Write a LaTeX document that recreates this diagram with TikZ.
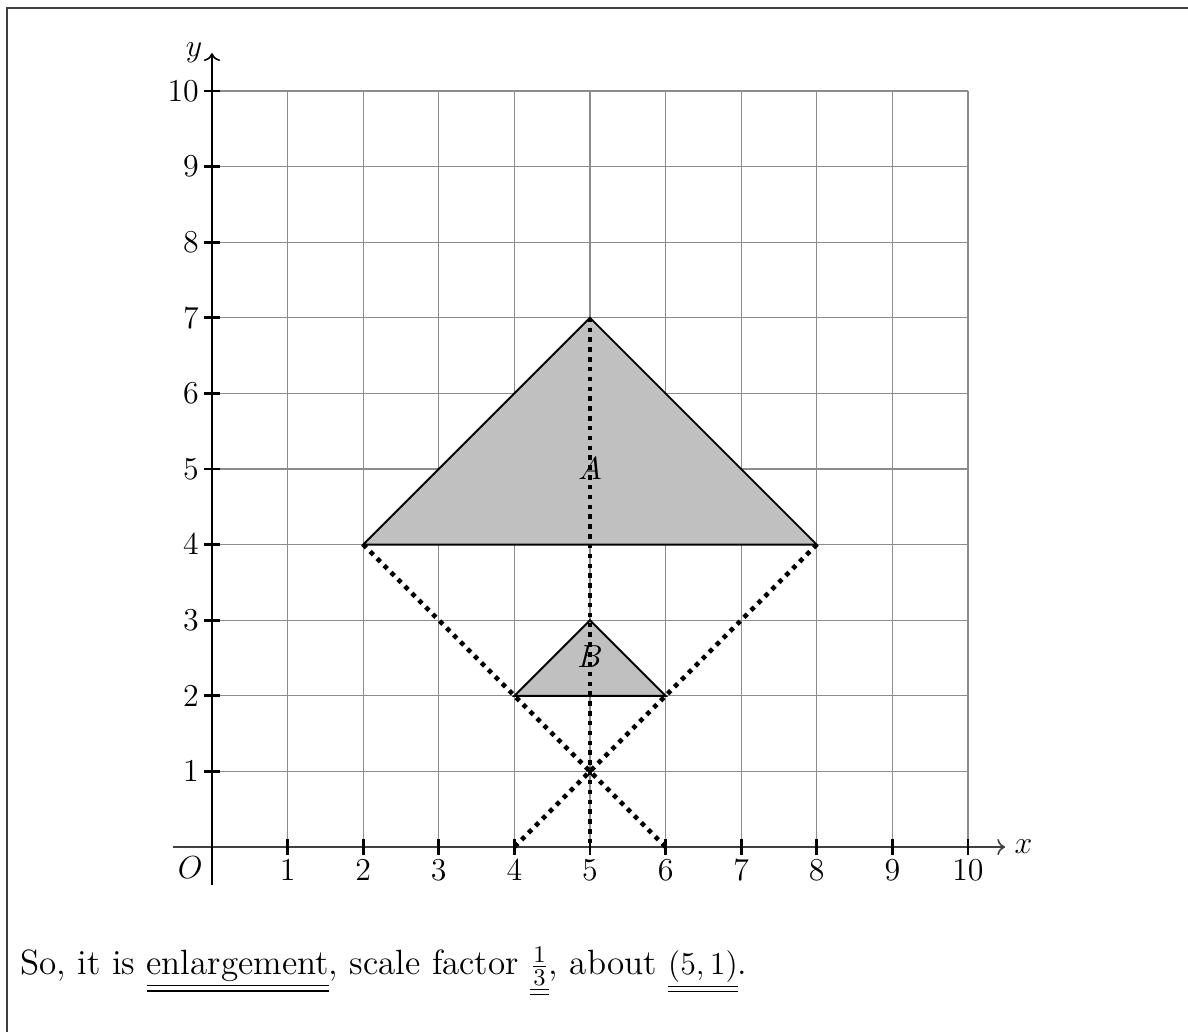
\documentclass[tikz,border=0pt]{standalone}
\usepackage{tikz}
\usetikzlibrary{arrows.meta,positioning,calc}
\usepackage{xcolor}
\definecolor{gridgray}{HTML}{8C8C8C}
\definecolor{shade}{HTML}{C0C0C0}

\begin{document}
\begin{tikzpicture}[
  every node/.style={font=\fontsize{13.2}{16}\selectfont},
  gridline/.style={draw=gridgray, line width=0.5pt},
  axis/.style={->, line width=0.6pt},
  tick/.style={line width=1.1pt},
  tri/.style={draw=black, fill=shade, line width=0.7pt, line join=miter},
  ray/.style={dotted, line width=1.7pt},
  frame/.style={draw=black!75, line width=0.8pt},
]

% page frame
\useasboundingbox (-2.804,-2.434) rectangle (12.91,11.204);
\draw[frame] (-2.71,-2.6) -- (-2.71,11.1) -- (13.1,11.1);

% grid
\foreach \i in {1,...,10} {
  \draw[gridline] (\i,0) -- (\i,10);
  \draw[gridline] (0,\i) -- (10,\i);
}

% axes
\draw[axis, draw=black!75] (-0.52,0) -- (10.49,0) node[right, text=black] (xlab) {$x$};
\draw[axis] (0,-0.5) -- (0,10.5) node[left] (ylab) {$y$};
\node[below left] (O) at (0,0) {$O$};

\foreach \i in {1,...,10} {
  \draw[tick] (\i,-0.1) -- (\i,0.1);
  \node[below] (xt\i) at (\i,-0.05) {$\i$};
  \draw[tick] (-0.1,\i) -- (0.1,\i);
  \node[left] (yt\i) at (-0.05,\i) {$\i$};
}

% the triangles
\coordinate (A1) at (2,4);
\coordinate (A2) at (5,7);
\coordinate (A3) at (8,4);
\coordinate (B1) at (4,2);
\coordinate (B2) at (5,3);
\coordinate (B3) at (6,2);
\coordinate (C) at (5,1);

\filldraw[tri] (A1) -- (A2) -- (A3) -- cycle;
\filldraw[tri] (B1) -- (B2) -- (B3) -- cycle;
\node (labA) at (5,5) {$A$};
\node (labB) at (5,2.52) {$B$};

% rays through the centre
\draw[ray] (A2) -- (5,0);
\draw[ray] (A1) -- (6,0);
\draw[ray] (A3) -- (4,0);

% answer
\node[anchor=base west, inner sep=0pt] (ans) at (-2.54,-1.69)
  {So, it is \underline{\underline{enlargement}}, scale factor
   $\underline{\underline{\frac{1}{3}}}$, about $\underline{\underline{(5, 1)}}$.};

\end{tikzpicture}
\end{document}
